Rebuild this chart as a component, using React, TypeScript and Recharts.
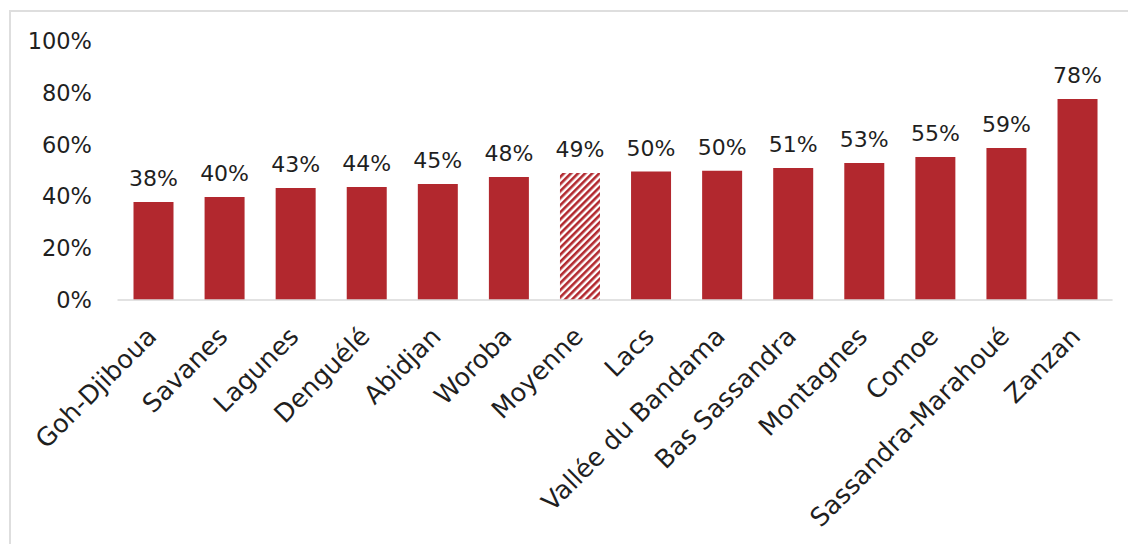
import React from "react";
import { BarChart, Bar, XAxis, YAxis, Cell, LabelList } from "recharts";

const categories = [
  "Goh-Djiboua", "Savanes", "Lagunes", "Denguélé", "Abidjan", "Woroba", "Moyenne",
  "Lacs", "Vallée du Bandama", "Bas Sassandra", "Montagnes", "Comoe", "Sassandra-Marahoué", "Zanzan",
];
const values = [37.8, 39.8, 43.2, 43.6, 44.8, 47.5, 49.0, 49.6, 49.9, 51.0, 52.9, 55.2, 58.7, 77.6];
const averageCategory = "Moyenne";
const yTicks = [0, 20, 40, 60, 80, 100];

const data = categories.map((name, i) => ({ name, value: values[i] }));

const RED = "#B2282E";
const TEXT = "#1f1f1f";
const FONT = "'DejaVu Sans', sans-serif";

const XTick = (props: any) => {
  const { x, y, payload } = props;
  const ax = x + 5;
  const ay = y + 38;
  return (
    <text
      x={ax}
      y={ay}
      textAnchor="end"
      transform={`rotate(-45, ${ax}, ${ay})`}
      fill={TEXT}
      fontSize={25.5}
      fontFamily={FONT}
    >
      {payload.value}
    </text>
  );
};

export default function App() {
  return (
    <div
      style={{
        position: "fixed",
        left: 0,
        top: 0,
        width: 1128,
        height: 544,
        overflow: "hidden",
        background: "#fff",
      }}
    >
      <div
        style={{
          position: "absolute",
          left: 9,
          top: 10,
          width: 1300,
          height: 700,
          border: "2px solid #dedede",
        }}
      />
      <div style={{ position: "absolute", left: 0, top: 0 }}>
        <BarChart
          width={1128}
          height={544}
          data={data}
          margin={{ top: 41, right: 15.4, left: 0, bottom: 0 }}
        >
          <defs>
            <pattern
              id="hatch"
              patternUnits="userSpaceOnUse"
              width={5}
              height={5}
              patternTransform="rotate(45)"
            >
              <rect x={0} y={0} width={5} height={5} fill="#ffffff" />
              <rect x={0} y={0} width={2.6} height={5} fill={RED} />
            </pattern>
          </defs>
          <XAxis
            dataKey="name"
            interval={0}
            height={244}
            tickLine={false}
            tickSize={0}
            tickMargin={0}
            axisLine={{ stroke: "#d9d9d9", strokeWidth: 1.5 }}
            tick={<XTick />}
          />
          <YAxis
            width={117.5}
            domain={[0, 100]}
            ticks={yTicks}
            axisLine={false}
            tickLine={false}
            tickSize={0}
            tickMargin={25.5}
            tickFormatter={(v: number) => `${v}%`}
            tick={{ fill: TEXT, fontSize: 22.5, fontFamily: FONT }}
          />
          <Bar dataKey="value" barSize={40} isAnimationActive={false}>
            {data.map((d) => (
              <Cell key={d.name} fill={d.name === averageCategory ? "url(#hatch)" : RED} />
            ))}
            <LabelList
              dataKey="value"
              position="top"
              offset={16}
              formatter={(v: number) => `${Math.round(v)}%`}
              style={{ fill: TEXT, fontSize: 22, fontFamily: FONT }}
            />
          </Bar>
        </BarChart>
      </div>
    </div>
  );
}
